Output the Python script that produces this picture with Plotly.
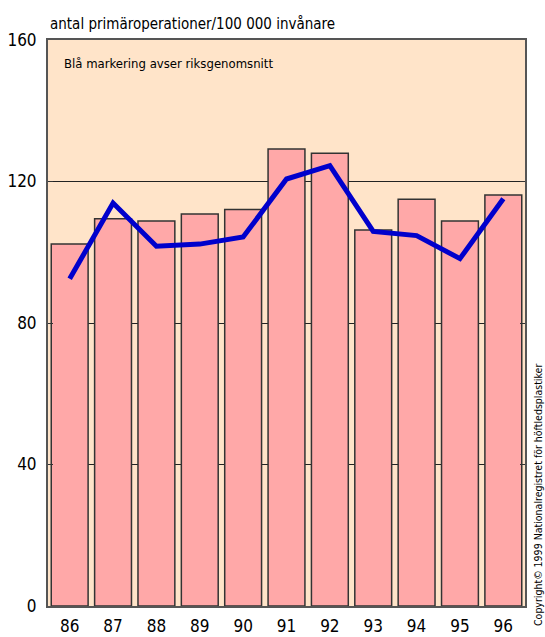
import plotly.graph_objects as go

# Årtal (kategorier) och värden
years = ["86", "87", "88", "89", "90", "91", "92", "93", "94", "95", "96"]
clinic_values = [102.3, 109.5, 108.8, 110.8, 112.1, 129.2, 128.0, 106.3, 115.0, 108.8, 116.2]
national_avg = [92.5, 113.9, 101.7, 102.3, 104.3, 120.7, 124.5, 105.9, 104.7, 98.2, 115.1]
y_ticks = [0, 40, 80, 120, 160]

FONT = "Liberation Sans Narrow, DejaVu Sans Condensed, Roboto, sans-serif"

fig = go.Figure()

fig.add_trace(go.Bar(
    x=years,
    y=clinic_values,
    marker=dict(color="#FFA8A8", line=dict(color="#333333", width=1.5)),
    showlegend=False,
    hoverinfo="x+y",
))

fig.add_trace(go.Scatter(
    x=years,
    y=national_avg,
    mode="lines",
    line=dict(color="#0000CC", width=5),
    showlegend=False,
))

fig.update_layout(
    width=545,
    height=637,
    margin=dict(l=48, r=20, t=40, b=31),
    paper_bgcolor="white",
    plot_bgcolor="#FFE4C9",
    bargap=0.15,
    font=dict(family=FONT, color="black"),
    annotations=[
        dict(
            text="antal primäroperationer/100 000 invånare",
            xref="paper", yref="paper", x=0.0, y=1.0,
            xanchor="left", yanchor="bottom", yshift=5,
            showarrow=False, font=dict(size=15, family=FONT),
        ),
        dict(
            text="Blå markering avser riksgenomsnitt",
            xref="paper", yref="paper", x=0.03, y=0.976,
            xanchor="left", yanchor="top",
            showarrow=False, font=dict(size=13, family=FONT),
        ),
        dict(
            text="Copyright© 1999 Nationalregistret för höftledsplastiker",
            xref="paper", yref="paper", x=1.0, y=0.0,
            xanchor="left", yanchor="bottom", xshift=5, yshift=-22,
            textangle=-90,
            showarrow=False, font=dict(size=10.5, family=FONT),
        ),
    ],
)

fig.update_xaxes(
    automargin=False,
    showline=True, linecolor="#555555", linewidth=2, mirror=True,
    showgrid=False,
    tickfont=dict(size=17, family=FONT),
    ticks="", ticklabelstandoff=4,
)

fig.update_yaxes(
    automargin=False,
    range=[0, 160],
    tickvals=y_ticks,
    showline=True, linecolor="#555555", linewidth=2, mirror="ticks",
    showgrid=True, gridcolor="#222222", gridwidth=1,
    ticks="inside", ticklen=5, tickcolor="#333333",
    tickfont=dict(size=17, family=FONT),
    ticklabelstandoff=6,
    zeroline=False,
)

fig.write_html("out.html")
